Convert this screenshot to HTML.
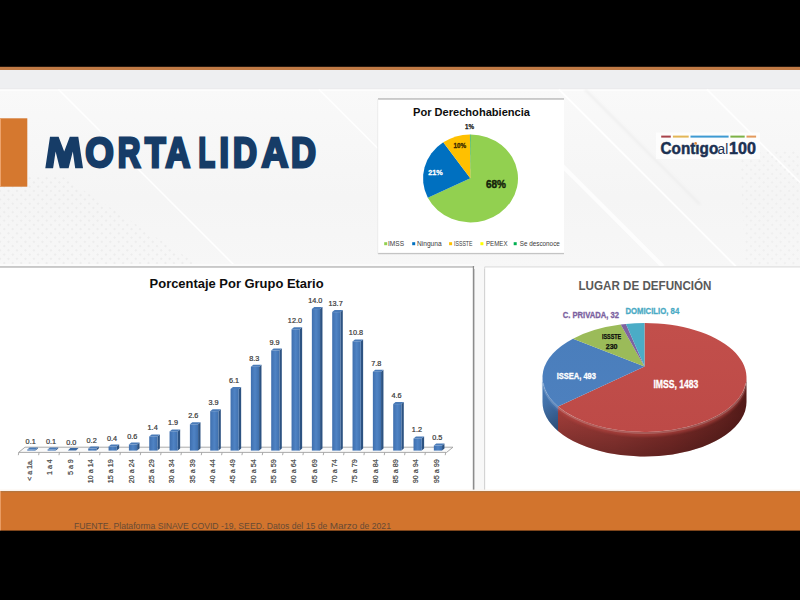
<!DOCTYPE html>
<html><head><meta charset="utf-8"><title>Mortalidad</title>
<style>html,body{margin:0;padding:0;background:#000;overflow:hidden;}svg{display:block;}</style>
</head><body>
<svg width="800" height="600" viewBox="0 0 800 600">
<defs>
<filter id="soft2" x="-5%" y="-20%" width="110%" height="140%"><feGaussianBlur stdDeviation="1.2"/></filter>
<filter id="soft" x="-5%" y="-5%" width="110%" height="110%"><feGaussianBlur stdDeviation="0.6"/></filter>
<pattern id="dots" x="0" y="0" width="6" height="6" patternUnits="userSpaceOnUse" patternTransform="rotate(45)">
 <circle cx="3" cy="3" r="1.1" fill="#E8E8E8"/>
</pattern>
<linearGradient id="hdrbg" x1="0" y1="0" x2="0" y2="1">
 <stop offset="0" stop-color="#F9F9F9"/><stop offset="0.6" stop-color="#F5F5F5"/><stop offset="1" stop-color="#F7F7F7"/>
</linearGradient>
<linearGradient id="barg" x1="0" y1="0" x2="1" y2="0">
 <stop offset="0" stop-color="#3F6FAE"/><stop offset="0.5" stop-color="#4F83C4"/><stop offset="1" stop-color="#3F70AE"/>
</linearGradient>
<linearGradient id="redside" x1="0" y1="0" x2="1" y2="0">
 <stop offset="0" stop-color="#A8403C"/><stop offset="0.3" stop-color="#A03C38"/><stop offset="0.6" stop-color="#8A302D"/><stop offset="0.85" stop-color="#6C2522"/><stop offset="1" stop-color="#561B19"/>
</linearGradient>
<linearGradient id="sideshade" x1="0" y1="0" x2="0" y2="1">
 <stop offset="0" stop-color="#000" stop-opacity="0"/><stop offset="0.5" stop-color="#000" stop-opacity="0.08"/><stop offset="1" stop-color="#000" stop-opacity="0.32"/>
</linearGradient>
<linearGradient id="blueside" x1="0" y1="0" x2="1" y2="0">
 <stop offset="0" stop-color="#4A7DBA"/><stop offset="1" stop-color="#3F6FAC"/>
</linearGradient>
<linearGradient id="redtop" x1="0" y1="0" x2="0" y2="1">
 <stop offset="0" stop-color="#C24F4B"/><stop offset="1" stop-color="#BD4A47"/>
</linearGradient>
<linearGradient id="bluetop" x1="0" y1="0" x2="0" y2="1">
 <stop offset="0" stop-color="#4A7EBC"/><stop offset="1" stop-color="#4D80BE"/>
</linearGradient>
</defs>
<rect x="0" y="0" width="800" height="67" fill="#000"/>
<rect x="0" y="66.8" width="800" height="3.2" fill="#C07A45"/>
<rect x="0" y="70" width="800" height="19" fill="#EEEFF1"/>
<rect x="0" y="89" width="800" height="180" fill="url(#hdrbg)"/>
<rect x="0" y="88.6" width="800" height="0.8" fill="#E6E6E8"/>
<rect x="0" y="89.4" width="800" height="1.6" fill="#FDFDFD"/>
<g stroke="#FFFFFF" fill="none" stroke-linecap="butt" filter="url(#soft)"><line x1="58.5" y1="89.5" x2="101" y2="132" stroke-width="1.6" stroke-opacity="0.95"/><line x1="137" y1="168" x2="235.5" y2="266.5" stroke-width="1.6" stroke-opacity="0.95"/><line x1="319" y1="89.5" x2="378" y2="148.5" stroke-width="1.6" stroke-opacity="0.9"/><line x1="559" y1="89.5" x2="736" y2="266.5" stroke-width="1.8" stroke-opacity="0.95"/><line x1="560" y1="163.5" x2="663" y2="266.5" stroke-width="4" stroke-opacity="0.8"/><line x1="707" y1="89.5" x2="800" y2="182.5" stroke-width="1.8" stroke-opacity="0.9"/></g>
<line x1="585" y1="89.5" x2="700" y2="204.5" stroke="#E9E9E9" stroke-width="3" stroke-opacity="0.5" filter="url(#soft2)"/>
<g fill="url(#dots)"><path d="M0,175 L60,175 L200,266 L0,266 Z" opacity="0.8"/><path d="M740,150 L800,150 L800,266 L745,266 Z" opacity="0.6"/></g>
<rect x="0" y="118.3" width="27.3" height="68.4" fill="#D5782F"/>
<rect x="0" y="118.3" width="1" height="68.4" fill="#EDA36C"/>
<path d="M45.3,168.3 L50,136.7 L58.6,136.7 L64.2,151.5 L69.8,136.7 L78.3,136.7 L83,168.3 L75.2,168.3 L72.8,151.5 L68.6,168.3 L59.8,168.3 L55.6,151.5 L53.1,168.3 Z" fill="#163C67"/>
<text transform="translate(85.19,166.6) scale(0.8822,1)" font-family='"Liberation Sans", sans-serif' font-weight="bold" font-size="41.6" fill="#163C67" stroke="#163C67" stroke-width="2.6" stroke-linejoin="miter" vector-effect="non-scaling-stroke">O</text>
<text transform="translate(117.70,166.6) scale(0.7536,1)" font-family='"Liberation Sans", sans-serif' font-weight="bold" font-size="41.6" fill="#163C67" stroke="#163C67" stroke-width="2.6" stroke-linejoin="miter" vector-effect="non-scaling-stroke">R</text>
<text transform="translate(144.92,166.6) scale(0.8123,1)" font-family='"Liberation Sans", sans-serif' font-weight="bold" font-size="41.6" fill="#163C67" stroke="#163C67" stroke-width="2.6" stroke-linejoin="miter" vector-effect="non-scaling-stroke">T</text>
<text transform="translate(165.45,166.6) scale(0.8205,1)" font-family='"Liberation Sans", sans-serif' font-weight="bold" font-size="41.6" fill="#163C67" stroke="#163C67" stroke-width="2.6" stroke-linejoin="miter" vector-effect="non-scaling-stroke">A</text>
<text transform="translate(198.49,166.6) scale(0.6511,1)" font-family='"Liberation Sans", sans-serif' font-weight="bold" font-size="41.6" fill="#163C67" stroke="#163C67" stroke-width="2.6" stroke-linejoin="miter" vector-effect="non-scaling-stroke">L</text>
<text transform="translate(219.52,166.6) scale(0.8177,1)" font-family='"Liberation Sans", sans-serif' font-weight="bold" font-size="41.6" fill="#163C67" stroke="#163C67" stroke-width="2.6" stroke-linejoin="miter" vector-effect="non-scaling-stroke">I</text>
<text transform="translate(233.07,166.6) scale(0.7996,1)" font-family='"Liberation Sans", sans-serif' font-weight="bold" font-size="41.6" fill="#163C67" stroke="#163C67" stroke-width="2.6" stroke-linejoin="miter" vector-effect="non-scaling-stroke">D</text>
<text transform="translate(261.38,166.6) scale(0.8922,1)" font-family='"Liberation Sans", sans-serif' font-weight="bold" font-size="41.6" fill="#163C67" stroke="#163C67" stroke-width="2.6" stroke-linejoin="miter" vector-effect="non-scaling-stroke">A</text>
<text transform="translate(290.99,166.6) scale(0.8310,1)" font-family='"Liberation Sans", sans-serif' font-weight="bold" font-size="41.6" fill="#163C67" stroke="#163C67" stroke-width="2.6" stroke-linejoin="miter" vector-effect="non-scaling-stroke">D</text>
<rect x="656" y="132.5" width="104" height="26.5" fill="#FFFFFF" opacity="0.7"/>
<rect x="661.2" y="135.6" width="9.6" height="2" fill="#A8434A"/>
<rect x="672.9" y="135.6" width="15.8" height="2" fill="#E3B656"/>
<rect x="690.5" y="135.6" width="38.1" height="2" fill="#3E9AD2"/>
<rect x="730.4" y="135.6" width="14.3" height="2" fill="#7DB247"/>
<rect x="746.5" y="135.6" width="9.6" height="2" fill="#E39A5C"/>
<text x="660.6" y="153.5" font-family='"Liberation Sans", sans-serif' font-weight="bold" font-size="16" fill="#1C3152" textLength="57.6" lengthAdjust="spacingAndGlyphs" stroke="#1C3152" stroke-width="0.5">Contıgo</text>
<text x="717.6" y="153.5" font-family='"Liberation Sans", sans-serif' font-size="15.5" fill="#1C3152" textLength="10.6" lengthAdjust="spacingAndGlyphs" >al</text>
<circle cx="695.6" cy="143.4" r="1.35" fill="#E08A3C"/>
<text x="729.1" y="153.5" font-family='"Liberation Sans", sans-serif' font-weight="bold" font-size="16" fill="#1C3152" textLength="26.8" lengthAdjust="spacingAndGlyphs" stroke="#1C3152" stroke-width="0.5">100</text>
<rect x="378" y="99" width="186" height="155" fill="#FFFFFF"/>
<rect x="378" y="98.2" width="186" height="1.5" fill="#BDBDBD"/>
<rect x="378" y="252.9" width="186" height="1.3" fill="#C4C4C4"/>
<rect x="377.4" y="99" width="0.8" height="155" fill="#E8E8E8"/>
<text x="471.5" y="116" text-anchor="middle" font-family='"Liberation Sans", sans-serif' font-weight="bold" font-size="10.2" fill="#0D0D0D" textLength="117" lengthAdjust="spacingAndGlyphs" >Por Derechohabiencia</text>
<path d="M470.30,178.20 L470.50,134.40 A47.5,44 0 1 1 427.81,197.69 Z" fill="#92D050" />
<path d="M470.30,178.20 L427.81,197.69 A47.5,44 0 0 1 443.26,142.36 Z" fill="#0070C0" />
<path d="M470.30,178.20 L443.26,142.36 A47.5,44 0 0 1 469.92,134.40 Z" fill="#FFC000" />
<path d="M470.30,178.20 L469.92,134.40 A47.5,44 0 0 1 470.50,134.40 Z" fill="#00A04A" />
<text x="496" y="188" text-anchor="middle" font-family='"Liberation Sans", sans-serif' font-weight="bold" font-size="11.2" fill="#14220A" textLength="20" lengthAdjust="spacingAndGlyphs" stroke="#14220A" stroke-width="0.45">68%</text>
<text x="435.5" y="174.8" text-anchor="middle" font-family='"Liberation Sans", sans-serif' font-weight="bold" font-size="8" fill="#FFFFFF" textLength="14.5" lengthAdjust="spacingAndGlyphs" stroke="#FFFFFF" stroke-width="0.3">21%</text>
<text x="459.8" y="148.2" text-anchor="middle" font-family='"Liberation Sans", sans-serif' font-weight="bold" font-size="6.8" fill="#3A2800" textLength="12.6" lengthAdjust="spacingAndGlyphs" stroke="#3A2800" stroke-width="0.3">10%</text>
<text x="469.6" y="129.4" text-anchor="middle" font-family='"Liberation Sans", sans-serif' font-weight="bold" font-size="6.8" fill="#1A1A1A" textLength="9" lengthAdjust="spacingAndGlyphs" stroke="#1A1A1A" stroke-width="0.25">1%</text>
<rect x="384.2" y="242.2" width="3" height="3" fill="#92D050"/>
<text x="388" y="246.2" font-family='"Liberation Sans", sans-serif' font-size="6.8" fill="#3A3A3A" textLength="16" lengthAdjust="spacingAndGlyphs" >IMSS</text>
<rect x="412.2" y="242.2" width="3" height="3" fill="#0070C0"/>
<text x="417" y="246.2" font-family='"Liberation Sans", sans-serif' font-size="6.8" fill="#3A3A3A" textLength="24.6" lengthAdjust="spacingAndGlyphs" >Ninguna</text>
<rect x="449.1" y="242.2" width="3" height="3" fill="#FFC000"/>
<text x="454" y="246.2" font-family='"Liberation Sans", sans-serif' font-size="6.8" fill="#3A3A3A" textLength="18.5" lengthAdjust="spacingAndGlyphs" >ISSSTE</text>
<rect x="480.4" y="242.2" width="3" height="3" fill="#FFFF00"/>
<text x="486" y="246.2" font-family='"Liberation Sans", sans-serif' font-size="6.8" fill="#3A3A3A" textLength="21.5" lengthAdjust="spacingAndGlyphs" >PEMEX</text>
<rect x="513.7" y="242.2" width="3" height="3" fill="#00B050"/>
<text x="519.8" y="246.2" font-family='"Liberation Sans", sans-serif' font-size="6.8" fill="#3A3A3A" textLength="40" lengthAdjust="spacingAndGlyphs" >Se desconoce</text>
<rect x="0" y="266.5" width="474" height="224.5" fill="#FFFFFF"/>
<rect x="0" y="264" width="474" height="2" fill="#FBFBFB"/>
<rect x="0" y="266.1" width="474" height="1.7" fill="#C2C2C2"/>
<rect x="472.8" y="266" width="1.4" height="225" fill="#8C8C8C"/>
<rect x="474.2" y="266.5" width="10.3" height="224.5" fill="#F8F8F8"/>
<text x="236.6" y="288" text-anchor="middle" font-family='"Liberation Sans", sans-serif' font-weight="bold" font-size="13.2" fill="#0D0D0D" textLength="174" lengthAdjust="spacingAndGlyphs" >Porcentaje Por Grupo Etario</text>
<path d="M25,447.2 L453,447.2 L446.6,452.4 L18.6,452.4 Z" fill="#FAFAFA" stroke="#A0A0A0" stroke-width="0.9"/>
<line x1="18.80" y1="452.4" x2="18.30" y2="455.2" stroke="#A0A0A0" stroke-width="0.9"/>
<line x1="39.13" y1="452.4" x2="38.63" y2="455.2" stroke="#A0A0A0" stroke-width="0.9"/>
<line x1="59.46" y1="452.4" x2="58.96" y2="455.2" stroke="#A0A0A0" stroke-width="0.9"/>
<line x1="79.79" y1="452.4" x2="79.29" y2="455.2" stroke="#A0A0A0" stroke-width="0.9"/>
<line x1="100.12" y1="452.4" x2="99.62" y2="455.2" stroke="#A0A0A0" stroke-width="0.9"/>
<line x1="120.45" y1="452.4" x2="119.95" y2="455.2" stroke="#A0A0A0" stroke-width="0.9"/>
<line x1="140.78" y1="452.4" x2="140.28" y2="455.2" stroke="#A0A0A0" stroke-width="0.9"/>
<line x1="161.11" y1="452.4" x2="160.61" y2="455.2" stroke="#A0A0A0" stroke-width="0.9"/>
<line x1="181.44" y1="452.4" x2="180.94" y2="455.2" stroke="#A0A0A0" stroke-width="0.9"/>
<line x1="201.77" y1="452.4" x2="201.27" y2="455.2" stroke="#A0A0A0" stroke-width="0.9"/>
<line x1="222.10" y1="452.4" x2="221.60" y2="455.2" stroke="#A0A0A0" stroke-width="0.9"/>
<line x1="242.43" y1="452.4" x2="241.93" y2="455.2" stroke="#A0A0A0" stroke-width="0.9"/>
<line x1="262.76" y1="452.4" x2="262.26" y2="455.2" stroke="#A0A0A0" stroke-width="0.9"/>
<line x1="283.09" y1="452.4" x2="282.59" y2="455.2" stroke="#A0A0A0" stroke-width="0.9"/>
<line x1="303.42" y1="452.4" x2="302.92" y2="455.2" stroke="#A0A0A0" stroke-width="0.9"/>
<line x1="323.75" y1="452.4" x2="323.25" y2="455.2" stroke="#A0A0A0" stroke-width="0.9"/>
<line x1="344.08" y1="452.4" x2="343.58" y2="455.2" stroke="#A0A0A0" stroke-width="0.9"/>
<line x1="364.41" y1="452.4" x2="363.91" y2="455.2" stroke="#A0A0A0" stroke-width="0.9"/>
<line x1="384.74" y1="452.4" x2="384.24" y2="455.2" stroke="#A0A0A0" stroke-width="0.9"/>
<line x1="405.07" y1="452.4" x2="404.57" y2="455.2" stroke="#A0A0A0" stroke-width="0.9"/>
<line x1="425.40" y1="452.4" x2="424.90" y2="455.2" stroke="#A0A0A0" stroke-width="0.9"/>
<line x1="445.73" y1="452.4" x2="445.23" y2="455.2" stroke="#A0A0A0" stroke-width="0.9"/>
<path d="M35.45,449.59 L37.85,447.59 L37.85,448.60 L35.45,450.60 Z" fill="#2D5382"/>
<path d="M27.25,449.59 L29.65,447.59 L37.85,447.59 L35.45,449.59 Z" fill="#4A7BB8"/>
<rect x="27.25" y="449.59" width="8.2" height="1.01" fill="url(#barg)"/>
<text x="30.65" y="443.59" text-anchor="middle" font-family='"Liberation Sans", sans-serif' font-size="7.6" fill="#383838" textLength="10.13" lengthAdjust="spacingAndGlyphs" stroke="#383838" stroke-width="0.22">0.1</text>
<text transform="translate(32.00,459.2) rotate(-90)" text-anchor="end" font-family='"Liberation Sans", sans-serif' font-size="8" fill="#3C3C3C" stroke="#3C3C3C" stroke-width="0.2" textLength="21.60" lengthAdjust="spacingAndGlyphs">&lt; a 1a.</text>
<path d="M55.78,449.59 L58.18,447.59 L58.18,448.60 L55.78,450.60 Z" fill="#2D5382"/>
<path d="M47.58,449.59 L49.98,447.59 L58.18,447.59 L55.78,449.59 Z" fill="#4A7BB8"/>
<rect x="47.58" y="449.59" width="8.2" height="1.01" fill="url(#barg)"/>
<text x="50.98" y="443.59" text-anchor="middle" font-family='"Liberation Sans", sans-serif' font-size="7.6" fill="#383838" textLength="10.13" lengthAdjust="spacingAndGlyphs" stroke="#383838" stroke-width="0.22">0.1</text>
<text transform="translate(52.33,459.2) rotate(-90)" text-anchor="end" font-family='"Liberation Sans", sans-serif' font-size="8" fill="#3C3C3C" stroke="#3C3C3C" stroke-width="0.2" textLength="15.75" lengthAdjust="spacingAndGlyphs">1 a 4</text>
<path d="M67.91,450.60 L76.11,450.60 L78.51,448.00 L70.31,448.00 Z" fill="#3B69A3"/>
<text x="71.31" y="444.60" text-anchor="middle" font-family='"Liberation Sans", sans-serif' font-size="7.6" fill="#383838" textLength="10.13" lengthAdjust="spacingAndGlyphs" stroke="#383838" stroke-width="0.22">0.0</text>
<text transform="translate(72.66,459.2) rotate(-90)" text-anchor="end" font-family='"Liberation Sans", sans-serif' font-size="8" fill="#3C3C3C" stroke="#3C3C3C" stroke-width="0.2" textLength="15.75" lengthAdjust="spacingAndGlyphs">5 a 9</text>
<path d="M96.44,448.58 L98.84,446.58 L98.84,448.60 L96.44,450.60 Z" fill="#2D5382"/>
<path d="M88.24,448.58 L90.64,446.58 L98.84,446.58 L96.44,448.58 Z" fill="#4A7BB8"/>
<rect x="88.24" y="448.58" width="8.2" height="2.02" fill="url(#barg)"/>
<text x="91.64" y="442.58" text-anchor="middle" font-family='"Liberation Sans", sans-serif' font-size="7.6" fill="#383838" textLength="10.13" lengthAdjust="spacingAndGlyphs" stroke="#383838" stroke-width="0.22">0.2</text>
<text transform="translate(92.99,459.2) rotate(-90)" text-anchor="end" font-family='"Liberation Sans", sans-serif' font-size="8" fill="#3C3C3C" stroke="#3C3C3C" stroke-width="0.2" textLength="23.97" lengthAdjust="spacingAndGlyphs">10 a 14</text>
<path d="M116.77,446.56 L119.17,444.56 L119.17,448.60 L116.77,450.60 Z" fill="#2D5382"/>
<path d="M108.57,446.56 L110.97,444.56 L119.17,444.56 L116.77,446.56 Z" fill="#4A7BB8"/>
<rect x="108.57" y="446.56" width="8.2" height="4.04" fill="url(#barg)"/>
<text x="111.97" y="440.56" text-anchor="middle" font-family='"Liberation Sans", sans-serif' font-size="7.6" fill="#383838" textLength="10.13" lengthAdjust="spacingAndGlyphs" stroke="#383838" stroke-width="0.22">0.4</text>
<text transform="translate(113.32,459.2) rotate(-90)" text-anchor="end" font-family='"Liberation Sans", sans-serif' font-size="8" fill="#3C3C3C" stroke="#3C3C3C" stroke-width="0.2" textLength="23.97" lengthAdjust="spacingAndGlyphs">15 a 19</text>
<path d="M137.10,444.53 L139.50,442.53 L139.50,448.60 L137.10,450.60 Z" fill="#2D5382"/>
<path d="M128.90,444.53 L131.30,442.53 L139.50,442.53 L137.10,444.53 Z" fill="#4A7BB8"/>
<rect x="128.90" y="444.53" width="8.2" height="6.07" fill="url(#barg)"/>
<text x="132.30" y="438.53" text-anchor="middle" font-family='"Liberation Sans", sans-serif' font-size="7.6" fill="#383838" textLength="10.13" lengthAdjust="spacingAndGlyphs" stroke="#383838" stroke-width="0.22">0.6</text>
<text transform="translate(133.65,459.2) rotate(-90)" text-anchor="end" font-family='"Liberation Sans", sans-serif' font-size="8" fill="#3C3C3C" stroke="#3C3C3C" stroke-width="0.2" textLength="23.97" lengthAdjust="spacingAndGlyphs">20 a 24</text>
<path d="M157.43,436.45 L159.83,434.45 L159.83,448.60 L157.43,450.60 Z" fill="#2D5382"/>
<path d="M149.23,436.45 L151.63,434.45 L159.83,434.45 L157.43,436.45 Z" fill="#4A7BB8"/>
<rect x="149.23" y="436.45" width="8.2" height="14.15" fill="url(#barg)"/>
<text x="152.63" y="430.45" text-anchor="middle" font-family='"Liberation Sans", sans-serif' font-size="7.6" fill="#383838" textLength="10.13" lengthAdjust="spacingAndGlyphs" stroke="#383838" stroke-width="0.22">1.4</text>
<text transform="translate(153.98,459.2) rotate(-90)" text-anchor="end" font-family='"Liberation Sans", sans-serif' font-size="8" fill="#3C3C3C" stroke="#3C3C3C" stroke-width="0.2" textLength="23.97" lengthAdjust="spacingAndGlyphs">25 a 29</text>
<path d="M177.76,431.39 L180.16,429.39 L180.16,448.60 L177.76,450.60 Z" fill="#2D5382"/>
<path d="M169.56,431.39 L171.96,429.39 L180.16,429.39 L177.76,431.39 Z" fill="#4A7BB8"/>
<rect x="169.56" y="431.39" width="8.2" height="19.21" fill="url(#barg)"/>
<text x="172.96" y="425.39" text-anchor="middle" font-family='"Liberation Sans", sans-serif' font-size="7.6" fill="#383838" textLength="10.13" lengthAdjust="spacingAndGlyphs" stroke="#383838" stroke-width="0.22">1.9</text>
<text transform="translate(174.31,459.2) rotate(-90)" text-anchor="end" font-family='"Liberation Sans", sans-serif' font-size="8" fill="#3C3C3C" stroke="#3C3C3C" stroke-width="0.2" textLength="23.97" lengthAdjust="spacingAndGlyphs">30 a 34</text>
<path d="M198.09,424.31 L200.49,422.31 L200.49,448.60 L198.09,450.60 Z" fill="#2D5382"/>
<path d="M189.89,424.31 L192.29,422.31 L200.49,422.31 L198.09,424.31 Z" fill="#4A7BB8"/>
<rect x="189.89" y="424.31" width="8.2" height="26.29" fill="url(#barg)"/>
<text x="193.29" y="418.31" text-anchor="middle" font-family='"Liberation Sans", sans-serif' font-size="7.6" fill="#383838" textLength="10.13" lengthAdjust="spacingAndGlyphs" stroke="#383838" stroke-width="0.22">2.6</text>
<text transform="translate(194.64,459.2) rotate(-90)" text-anchor="end" font-family='"Liberation Sans", sans-serif' font-size="8" fill="#3C3C3C" stroke="#3C3C3C" stroke-width="0.2" textLength="23.97" lengthAdjust="spacingAndGlyphs">35 a 39</text>
<path d="M218.42,411.17 L220.82,409.17 L220.82,448.60 L218.42,450.60 Z" fill="#2D5382"/>
<path d="M210.22,411.17 L212.62,409.17 L220.82,409.17 L218.42,411.17 Z" fill="#4A7BB8"/>
<rect x="210.22" y="411.17" width="8.2" height="39.43" fill="url(#barg)"/>
<text x="213.62" y="405.17" text-anchor="middle" font-family='"Liberation Sans", sans-serif' font-size="7.6" fill="#383838" textLength="10.13" lengthAdjust="spacingAndGlyphs" stroke="#383838" stroke-width="0.22">3.9</text>
<text transform="translate(214.97,459.2) rotate(-90)" text-anchor="end" font-family='"Liberation Sans", sans-serif' font-size="8" fill="#3C3C3C" stroke="#3C3C3C" stroke-width="0.2" textLength="23.97" lengthAdjust="spacingAndGlyphs">40 a 44</text>
<path d="M238.75,388.93 L241.15,386.93 L241.15,448.60 L238.75,450.60 Z" fill="#2D5382"/>
<path d="M230.55,388.93 L232.95,386.93 L241.15,386.93 L238.75,388.93 Z" fill="#4A7BB8"/>
<rect x="230.55" y="388.93" width="8.2" height="61.67" fill="url(#barg)"/>
<text x="233.95" y="382.93" text-anchor="middle" font-family='"Liberation Sans", sans-serif' font-size="7.6" fill="#383838" textLength="10.13" lengthAdjust="spacingAndGlyphs" stroke="#383838" stroke-width="0.22">6.1</text>
<text transform="translate(235.30,459.2) rotate(-90)" text-anchor="end" font-family='"Liberation Sans", sans-serif' font-size="8" fill="#3C3C3C" stroke="#3C3C3C" stroke-width="0.2" textLength="23.97" lengthAdjust="spacingAndGlyphs">45 a 49</text>
<path d="M259.08,366.69 L261.48,364.69 L261.48,448.60 L259.08,450.60 Z" fill="#2D5382"/>
<path d="M250.88,366.69 L253.28,364.69 L261.48,364.69 L259.08,366.69 Z" fill="#4A7BB8"/>
<rect x="250.88" y="366.69" width="8.2" height="83.91" fill="url(#barg)"/>
<text x="254.28" y="360.69" text-anchor="middle" font-family='"Liberation Sans", sans-serif' font-size="7.6" fill="#383838" textLength="10.13" lengthAdjust="spacingAndGlyphs" stroke="#383838" stroke-width="0.22">8.3</text>
<text transform="translate(255.63,459.2) rotate(-90)" text-anchor="end" font-family='"Liberation Sans", sans-serif' font-size="8" fill="#3C3C3C" stroke="#3C3C3C" stroke-width="0.2" textLength="23.97" lengthAdjust="spacingAndGlyphs">50 a 54</text>
<path d="M279.41,350.51 L281.81,348.51 L281.81,448.60 L279.41,450.60 Z" fill="#2D5382"/>
<path d="M271.21,350.51 L273.61,348.51 L281.81,348.51 L279.41,350.51 Z" fill="#4A7BB8"/>
<rect x="271.21" y="350.51" width="8.2" height="100.09" fill="url(#barg)"/>
<text x="274.61" y="344.51" text-anchor="middle" font-family='"Liberation Sans", sans-serif' font-size="7.6" fill="#383838" textLength="10.13" lengthAdjust="spacingAndGlyphs" stroke="#383838" stroke-width="0.22">9.9</text>
<text transform="translate(275.96,459.2) rotate(-90)" text-anchor="end" font-family='"Liberation Sans", sans-serif' font-size="8" fill="#3C3C3C" stroke="#3C3C3C" stroke-width="0.2" textLength="23.97" lengthAdjust="spacingAndGlyphs">55 a 59</text>
<path d="M299.74,329.28 L302.14,327.28 L302.14,448.60 L299.74,450.60 Z" fill="#2D5382"/>
<path d="M291.54,329.28 L293.94,327.28 L302.14,327.28 L299.74,329.28 Z" fill="#4A7BB8"/>
<rect x="291.54" y="329.28" width="8.2" height="121.32" fill="url(#barg)"/>
<text x="294.94" y="323.28" text-anchor="middle" font-family='"Liberation Sans", sans-serif' font-size="7.6" fill="#383838" textLength="14.18" lengthAdjust="spacingAndGlyphs" stroke="#383838" stroke-width="0.22">12.0</text>
<text transform="translate(296.29,459.2) rotate(-90)" text-anchor="end" font-family='"Liberation Sans", sans-serif' font-size="8" fill="#3C3C3C" stroke="#3C3C3C" stroke-width="0.2" textLength="23.97" lengthAdjust="spacingAndGlyphs">60 a 64</text>
<path d="M320.07,309.06 L322.47,307.06 L322.47,448.60 L320.07,450.60 Z" fill="#2D5382"/>
<path d="M311.87,309.06 L314.27,307.06 L322.47,307.06 L320.07,309.06 Z" fill="#4A7BB8"/>
<rect x="311.87" y="309.06" width="8.2" height="141.54" fill="url(#barg)"/>
<text x="315.27" y="303.06" text-anchor="middle" font-family='"Liberation Sans", sans-serif' font-size="7.6" fill="#383838" textLength="14.18" lengthAdjust="spacingAndGlyphs" stroke="#383838" stroke-width="0.22">14.0</text>
<text transform="translate(316.62,459.2) rotate(-90)" text-anchor="end" font-family='"Liberation Sans", sans-serif' font-size="8" fill="#3C3C3C" stroke="#3C3C3C" stroke-width="0.2" textLength="23.97" lengthAdjust="spacingAndGlyphs">65 a 69</text>
<path d="M340.40,312.09 L342.80,310.09 L342.80,448.60 L340.40,450.60 Z" fill="#2D5382"/>
<path d="M332.20,312.09 L334.60,310.09 L342.80,310.09 L340.40,312.09 Z" fill="#4A7BB8"/>
<rect x="332.20" y="312.09" width="8.2" height="138.51" fill="url(#barg)"/>
<text x="335.60" y="306.09" text-anchor="middle" font-family='"Liberation Sans", sans-serif' font-size="7.6" fill="#383838" textLength="14.18" lengthAdjust="spacingAndGlyphs" stroke="#383838" stroke-width="0.22">13.7</text>
<text transform="translate(336.95,459.2) rotate(-90)" text-anchor="end" font-family='"Liberation Sans", sans-serif' font-size="8" fill="#3C3C3C" stroke="#3C3C3C" stroke-width="0.2" textLength="23.97" lengthAdjust="spacingAndGlyphs">70 a 74</text>
<path d="M360.73,341.41 L363.13,339.41 L363.13,448.60 L360.73,450.60 Z" fill="#2D5382"/>
<path d="M352.53,341.41 L354.93,339.41 L363.13,339.41 L360.73,341.41 Z" fill="#4A7BB8"/>
<rect x="352.53" y="341.41" width="8.2" height="109.19" fill="url(#barg)"/>
<text x="355.93" y="335.41" text-anchor="middle" font-family='"Liberation Sans", sans-serif' font-size="7.6" fill="#383838" textLength="14.18" lengthAdjust="spacingAndGlyphs" stroke="#383838" stroke-width="0.22">10.8</text>
<text transform="translate(357.28,459.2) rotate(-90)" text-anchor="end" font-family='"Liberation Sans", sans-serif' font-size="8" fill="#3C3C3C" stroke="#3C3C3C" stroke-width="0.2" textLength="23.97" lengthAdjust="spacingAndGlyphs">75 a 79</text>
<path d="M381.06,371.74 L383.46,369.74 L383.46,448.60 L381.06,450.60 Z" fill="#2D5382"/>
<path d="M372.86,371.74 L375.26,369.74 L383.46,369.74 L381.06,371.74 Z" fill="#4A7BB8"/>
<rect x="372.86" y="371.74" width="8.2" height="78.86" fill="url(#barg)"/>
<text x="376.26" y="365.74" text-anchor="middle" font-family='"Liberation Sans", sans-serif' font-size="7.6" fill="#383838" textLength="10.13" lengthAdjust="spacingAndGlyphs" stroke="#383838" stroke-width="0.22">7.8</text>
<text transform="translate(377.61,459.2) rotate(-90)" text-anchor="end" font-family='"Liberation Sans", sans-serif' font-size="8" fill="#3C3C3C" stroke="#3C3C3C" stroke-width="0.2" textLength="23.97" lengthAdjust="spacingAndGlyphs">80 a 84</text>
<path d="M401.39,404.09 L403.79,402.09 L403.79,448.60 L401.39,450.60 Z" fill="#2D5382"/>
<path d="M393.19,404.09 L395.59,402.09 L403.79,402.09 L401.39,404.09 Z" fill="#4A7BB8"/>
<rect x="393.19" y="404.09" width="8.2" height="46.51" fill="url(#barg)"/>
<text x="396.59" y="398.09" text-anchor="middle" font-family='"Liberation Sans", sans-serif' font-size="7.6" fill="#383838" textLength="10.13" lengthAdjust="spacingAndGlyphs" stroke="#383838" stroke-width="0.22">4.6</text>
<text transform="translate(397.94,459.2) rotate(-90)" text-anchor="end" font-family='"Liberation Sans", sans-serif' font-size="8" fill="#3C3C3C" stroke="#3C3C3C" stroke-width="0.2" textLength="23.97" lengthAdjust="spacingAndGlyphs">85 a 89</text>
<path d="M421.72,438.47 L424.12,436.47 L424.12,448.60 L421.72,450.60 Z" fill="#2D5382"/>
<path d="M413.52,438.47 L415.92,436.47 L424.12,436.47 L421.72,438.47 Z" fill="#4A7BB8"/>
<rect x="413.52" y="438.47" width="8.2" height="12.13" fill="url(#barg)"/>
<text x="416.92" y="432.47" text-anchor="middle" font-family='"Liberation Sans", sans-serif' font-size="7.6" fill="#383838" textLength="10.13" lengthAdjust="spacingAndGlyphs" stroke="#383838" stroke-width="0.22">1.2</text>
<text transform="translate(418.27,459.2) rotate(-90)" text-anchor="end" font-family='"Liberation Sans", sans-serif' font-size="8" fill="#3C3C3C" stroke="#3C3C3C" stroke-width="0.2" textLength="23.97" lengthAdjust="spacingAndGlyphs">90 a 94</text>
<path d="M442.05,445.55 L444.45,443.55 L444.45,448.60 L442.05,450.60 Z" fill="#2D5382"/>
<path d="M433.85,445.55 L436.25,443.55 L444.45,443.55 L442.05,445.55 Z" fill="#4A7BB8"/>
<rect x="433.85" y="445.55" width="8.2" height="5.05" fill="url(#barg)"/>
<text x="437.25" y="439.55" text-anchor="middle" font-family='"Liberation Sans", sans-serif' font-size="7.6" fill="#383838" textLength="10.13" lengthAdjust="spacingAndGlyphs" stroke="#383838" stroke-width="0.22">0.5</text>
<text transform="translate(438.60,459.2) rotate(-90)" text-anchor="end" font-family='"Liberation Sans", sans-serif' font-size="8" fill="#3C3C3C" stroke="#3C3C3C" stroke-width="0.2" textLength="23.97" lengthAdjust="spacingAndGlyphs">95 a 99</text>
<rect x="484.5" y="266.5" width="315.5" height="224.5" fill="#FFFFFF"/>
<rect x="484.5" y="266.3" width="315.5" height="1.2" fill="#DDDDDD"/>
<rect x="484.2" y="267" width="1" height="224" fill="#DADADA"/>
<text x="645" y="290.3" text-anchor="middle" font-family='"Liberation Sans", sans-serif' font-weight="bold" font-size="12.6" fill="#595959" textLength="133" lengthAdjust="spacingAndGlyphs" >LUGAR DE DEFUNCIÓN</text>
<path d="M746.50,377.50 A102,54.5 0 0 1 558.00,406.38 L558.00,430.88 A102,54.5 0 0 0 746.50,402.00 Z" fill="url(#redside)" />
<path d="M746.50,377.50 A102,54.5 0 0 1 558.00,406.38 L558.00,430.88 A102,54.5 0 0 0 746.50,402.00 Z" fill="url(#sideshade)" />
<path d="M558.00,406.38 A102,54.5 0 0 1 542.50,377.50 L542.50,402.00 A102,54.5 0 0 0 558.00,430.88 Z" fill="url(#blueside)" />
<path d="M558.00,406.38 A102,54.5 0 0 1 542.50,377.50 L542.50,402.00 A102,54.5 0 0 0 558.00,430.88 Z" fill="url(#sideshade)" />
<g filter="url(#soft2)" opacity="0.55"><path d="M744.95,386.96 A102,54.5 0 0 1 558.00,406.38 L558.00,410.88 A102,54.5 0 0 0 744.95,391.46 Z" fill="#B84642" /><path d="M558.00,406.38 A102,54.5 0 0 1 542.56,379.40 L542.56,383.90 A102,54.5 0 0 0 558.00,410.88 Z" fill="#4F82C0" /></g>
<path d="M644.50,366.50 L644.50,323.00 A102,54.5 0 1 1 558.00,406.38 Z" fill="url(#redtop)" />
<path d="M644.50,366.50 L558.00,406.38 A102,54.5 0 0 1 573.01,338.63 Z" fill="url(#bluetop)" />
<path d="M644.50,366.50 L573.01,338.63 A102,54.5 0 0 1 620.69,324.51 Z" fill="#9BBB59" />
<path d="M644.50,366.50 L620.69,324.51 A102,54.5 0 0 1 625.91,323.91 Z" fill="#7E62A0" />
<path d="M644.50,366.50 L625.91,323.91 A102,54.5 0 0 1 644.50,323.00 Z" fill="#4BACC6" />
<path d="M746.11,383.25 A102,54.5 0 0 1 542.89,383.25" fill="none" stroke="#FFFFFF" stroke-opacity="0.18" stroke-width="2"/>
<text x="562.7" y="318" font-family='"Liberation Sans", sans-serif' font-weight="bold" font-size="9" fill="#7B61A0" textLength="56.3" lengthAdjust="spacingAndGlyphs" stroke="#7B61A0" stroke-width="0.3">C. PRIVADA, 32</text>
<text x="625.4" y="314.1" font-family='"Liberation Sans", sans-serif' font-weight="bold" font-size="9" fill="#4AAAC4" textLength="53.8" lengthAdjust="spacingAndGlyphs" stroke="#4AAAC4" stroke-width="0.3">DOMICILIO, 84</text>
<text x="602" y="339" font-family='"Liberation Sans", sans-serif' font-weight="bold" font-size="6.7" fill="#0D0D0D" textLength="19.2" lengthAdjust="spacingAndGlyphs" stroke="#0D0D0D" stroke-width="0.25">ISSSTE</text>
<text x="605.7" y="349.2" font-family='"Liberation Sans", sans-serif' font-weight="bold" font-size="7.4" fill="#0D0D0D" textLength="11.9" lengthAdjust="spacingAndGlyphs" stroke="#0D0D0D" stroke-width="0.25">230</text>
<text x="556.7" y="378.7" font-family='"Liberation Sans", sans-serif' font-weight="bold" font-size="9" fill="#FFFFFF" textLength="39.3" lengthAdjust="spacingAndGlyphs" stroke="#FFFFFF" stroke-width="0.3">ISSEA, 493</text>
<text x="653.4" y="387.6" font-family='"Liberation Sans", sans-serif' font-weight="bold" font-size="10.3" fill="#FFFFFF" textLength="45" lengthAdjust="spacingAndGlyphs" stroke="#FFFFFF" stroke-width="0.3">IMSS, 1483</text>
<rect x="0" y="489.6" width="800" height="1.4" fill="#FBF3EC"/>
<rect x="0" y="491" width="800" height="40" fill="#D2742D"/>
<rect x="0" y="491" width="800" height="1.3" fill="#B5763F"/>
<rect x="0" y="491" width="1" height="40" fill="#E99C63"/>
<rect x="0" y="530.6" width="800" height="69.4" fill="#000"/>
<text x="74" y="529" font-family='"Liberation Sans", sans-serif' font-size="8.4" fill="#674A34" textLength="317" lengthAdjust="spacingAndGlyphs">FUENTE. Plataforma SINAVE COVID -19, SEED. Datos del 15 de <tspan font-size="9.6">Marzo</tspan> de 2021</text>
</svg>
</body></html>
